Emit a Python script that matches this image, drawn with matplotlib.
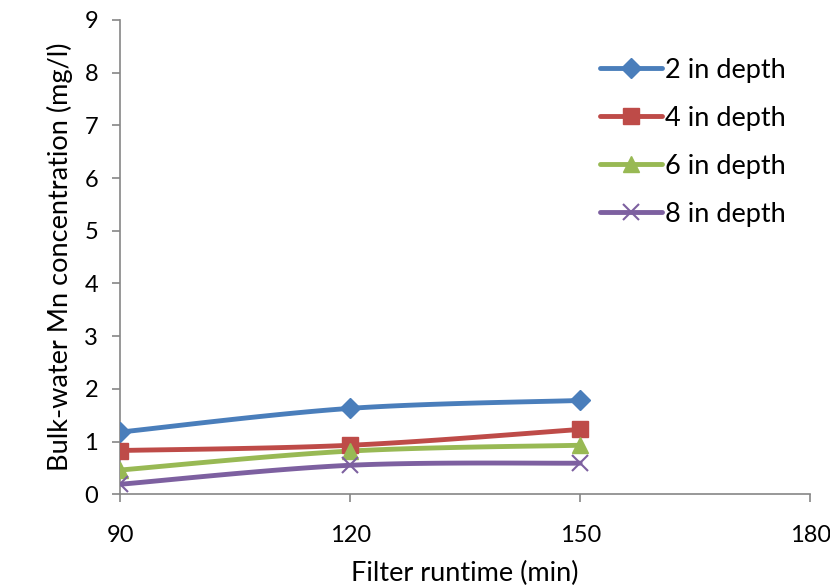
import matplotlib.pyplot as plt
import numpy as np

plt.rcParams['font.family'] = ['Lato', 'DejaVu Sans']

runtime = [90, 120, 150]
depth_labels = ['2 in depth', '4 in depth', '6 in depth', '8 in depth']
mn_2in = [1.18, 1.63, 1.78]
mn_4in = [0.83, 0.93, 1.23]
mn_6in = [0.46, 0.82, 0.93]
mn_8in = [0.19, 0.55, 0.59]

colors = ['#4a7ebb', '#be4b48', '#98b954', '#7d60a0']
markers = ['D', 's', '^', 'x']
msizes = [10, 12, 12, 12]


def smooth(x, y, n=40):
    # Catmull-Rom style bezier smoothing between points
    x = np.asarray(x, float)
    y = np.asarray(y, float)
    xs, ys = [], []
    for i in range(len(x) - 1):
        p0 = np.array([x[max(i - 1, 0)], y[max(i - 1, 0)]])
        p1 = np.array([x[i], y[i]])
        p2 = np.array([x[i + 1], y[i + 1]])
        p3 = np.array([x[min(i + 2, len(x) - 1)], y[min(i + 2, len(x) - 1)]])
        c1 = p1 + (p2 - p0) / 6
        c2 = p2 - (p3 - p1) / 6
        t = np.linspace(0, 1, n)[:, None]
        pts = ((1 - t) ** 3) * p1 + 3 * ((1 - t) ** 2) * t * c1 + 3 * (1 - t) * t ** 2 * c2 + t ** 3 * p2
        xs.extend(pts[:, 0])
        ys.extend(pts[:, 1])
    return xs, ys


fig = plt.figure(figsize=(8.3, 5.87), dpi=100)
ax = fig.add_axes([0.145, 0.158, 0.831, 0.808])

series = [mn_2in, mn_4in, mn_6in, mn_8in]
for vals, lab, c, m, ms in zip(series, depth_labels, colors, markers, msizes):
    sx, sy = smooth(runtime, vals)
    ax.plot(sx, sy, color=c, lw=3.5, solid_capstyle='round', zorder=2)
    ax.plot(runtime, vals, linestyle='none', marker=m, color=c, ms=ms,
            mew=1.5 if m == 'x' else 1, zorder=3)
    ax.plot([], [], color=c, lw=3.5, marker=m, ms=ms,
            mew=1.5 if m == 'x' else 1, label=lab, solid_capstyle='round')

ax.set_xlim(90, 180)
ax.set_ylim(0, 9)
ax.set_xticks([90, 120, 150, 180])
ax.set_yticks(range(0, 10))
ax.set_xlabel('Filter runtime (min)', fontsize=19.5, labelpad=11)
ax.set_ylabel('Bulk-water Mn concentration (mg/l)', fontsize=19.5, labelpad=8)
ax.tick_params(axis='both', labelsize=17, color='#868686', length=6, width=1.2)
ax.tick_params(axis='x', pad=16)
ax.tick_params(axis='y', pad=10)
for s in ['top', 'right']:
    ax.spines[s].set_visible(False)
for s in ['left', 'bottom']:
    ax.spines[s].set_color('#868686')
    ax.spines[s].set_linewidth(1.2)

ax.legend(loc='upper left', bbox_to_anchor=(0.66, 0.972), frameon=False,
          fontsize=19.5, handlelength=2.3, handletextpad=0.1, labelspacing=0.85)

plt.savefig('out.png', dpi=100)
